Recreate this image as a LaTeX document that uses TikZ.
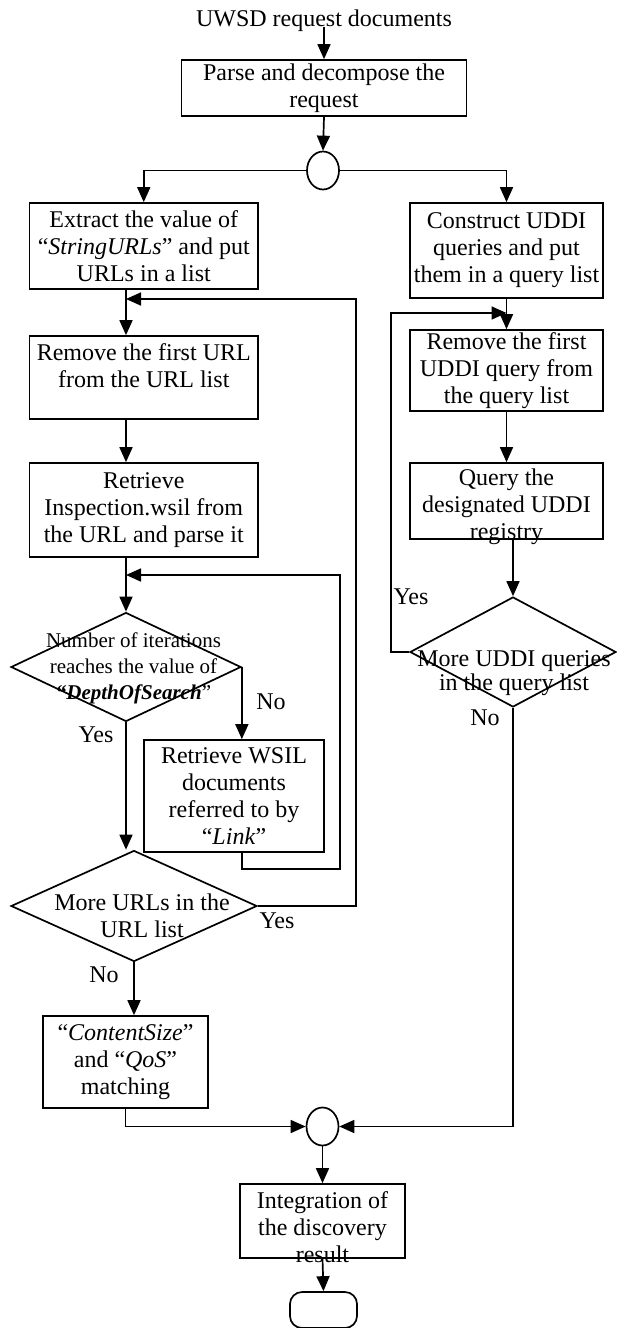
\documentclass[tikz,border=0pt]{standalone}
\usepackage{fontspec}
\setmainfont{Liberation Serif}
\usetikzlibrary{arrows.meta,shapes.geometric}
\newcommand{\flowfont}{\fontsize{12}{13.5}\selectfont}
\tikzset{flowchart/.style={
  x=0.5pt,y=-0.5pt,
  >={Triangle[length=7.5pt,width=6.5pt]},line width=0.85pt,
  every node/.style={font=\flowfont,inner sep=0pt,align=center}
},
box/.style={draw,rectangle},
decision/.style={draw,diamond},
junction/.style={draw,ellipse,minimum width=16pt,minimum height=19pt}}

\begin{document}
\begin{tikzpicture}[flowchart]
  \useasboundingbox (0,0) rectangle (616,1328);
  \coordinate (colL) at (126,0);
  \coordinate (yesturn) at (356,299);
  \coordinate (wsilturn) at (340,575);
  \coordinate (udditurn) at (391,313);
  \node (request) at (324,21) {UWSD request documents};
  \node[box,minimum width=142.5pt,minimum height=28pt] (parse) at (324,88) {Parse and decompose the\\request};
  \node[junction] (split) at (323,170.5) {};
  \node[box,minimum width=114.25pt,minimum height=43pt] (extract) at (143.75,246) {Extract the value of\\“\textit{StringURLs}” and put\\URLs in a list};
  \node[box,minimum width=96.5pt,minimum height=47.5pt] (construct) at (506.5,250.5) {Construct UDDI\\queries and put\\them in a query list};
  \node[box,minimum width=114.25pt,minimum height=41.5pt] (removeurl) at (143.75,377.5) {};
  \node (removeurltext) at (143.75,365.5) {Remove the first URL\\from the URL list};
  \node[box,minimum width=96.5pt,minimum height=40.5pt] (removeuddi) at (506.5,370.5) {Remove the first\\UDDI query from\\the query list};
  \node[box,minimum width=114.25pt,minimum height=47pt] (retrieve) at (143.75,510) {Retrieve\\Inspection.wsil from\\the URL and parse it};
  \node[box,minimum width=96.5pt,minimum height=38pt] (query) at (506.5,501) {};
  \node (querytext) at (506.5,507) {Query the\\designated UDDI\\registry};
  \node[decision,minimum width=115pt,minimum height=54.5pt] (depth) at (126,667) {};
  \node[font=\fontsize{10.5}{13}\selectfont] (depthtext) at (133.5,668) {Number of iterations\\reaches the value of\\{\bfseries\itshape “DepthOfSearch}”};
  \node[decision,minimum width=103pt,minimum height=55pt] (uddimore) at (513,652) {};
  \node[font=\fontsize{12}{10}\selectfont] (uddimoretext) at (514,673) {More UDDI queries\\in the query list};
  \node[box,minimum width=90pt,minimum height=56pt] (wsil) at (234,796) {Retrieve WSIL\\documents\\referred to by\\“\textit{Link}”};
  \node[decision,minimum width=123pt,minimum height=55.5pt] (urlmore) at (134,906) {};
  \node (urlmoretext) at (142,916) {More URLs in the\\URL list};
  \node[box,minimum width=82.5pt,minimum height=46pt] (content) at (125.5,1062) {“\textit{ContentSize}”\\and “\textit{QoS}”\\matching};
  \node[junction] (merge) at (322.5,1126.5) {};
  \node[box,minimum width=82.5pt,minimum height=37pt] (integ) at (322.5,1221) {};
  \node (integtext) at (322.5,1227) {Integration of\\the discovery\\result};
  \node[draw,rounded corners=6pt,minimum width=33.5pt,minimum height=18pt] (stop) at (323.5,1310) {};
  \node (depthno) at (271,702) {No};
  \node (depthyes) at (96,735) {Yes};
  \node (urlyes) at (277,921) {Yes};
  \node (urlno) at (104,975) {No};
  \node (uddiyes) at (411,597) {Yes};
  \node (uddino) at (485,718) {No};
  \draw[->] (request.base) -- (parse.north);
  \draw[->] (parse.south) -- (split.north);
  \draw[->] (split.west) -| (extract.north);
  \draw[->] (split.east) -| (construct.north);
  \draw[->] (extract.south -| colL) -- (removeurl.north -| colL);
  \draw[->] (removeurl.south -| colL) -- (retrieve.north -| colL);
  \draw[->] (retrieve.south -| colL) -- (depth.north);
  \draw[->] (depth.east) -- (depth.east |- wsil.north);
  \draw[->] (depth.south) -- (depth.south |- urlmore.north);
  \draw[->] (wsil.south -| depth.east) -- ++(0,16) -| (wsilturn) -- (wsilturn -| colL);
  \draw[->] (urlmore.east) -| (yesturn) -- (yesturn -| colL);
  \draw[->] (urlmore.south) -- (urlmore.south |- content.north);
  \draw[->] (content.south) |- (merge.west);
  \draw[->] (construct.south) -- (removeuddi.north);
  \draw[->] (removeuddi.south) -- (query.north);
  \draw[->] (query.south -| uddimore.north) -- (uddimore.north);
  \draw[->] (uddimore.west) -| (udditurn) -- (udditurn -| removeuddi.north);
  \draw[->] (uddimore.south) |- (merge.east);
  \draw[->] (merge.south) -- (integ.north);
  \draw[->] (integ.south) -- (stop.north);
\end{tikzpicture}
\end{document}
